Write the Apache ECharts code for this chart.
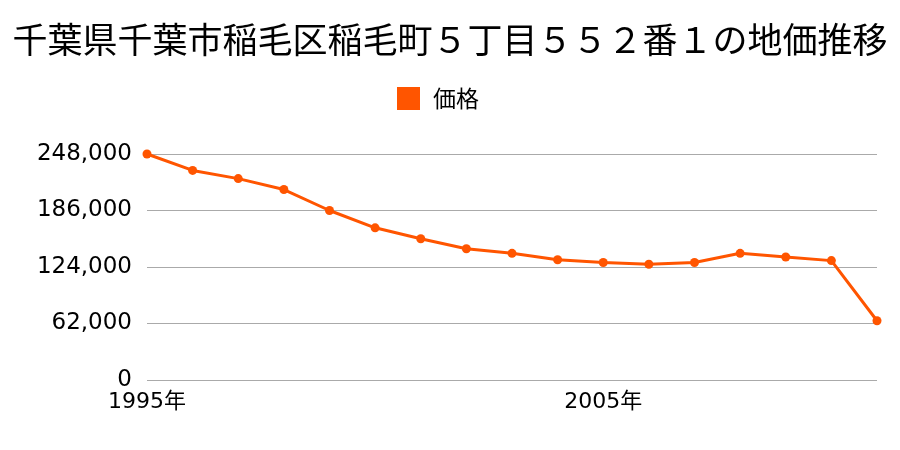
<!DOCTYPE html>
<html><head><meta charset="utf-8">
<script src="https://cdn.jsdelivr.net/npm/echarts@6/dist/echarts.min.js"></script>
<style>html,body{margin:0;padding:0;background:#fff}#c{width:900px;height:450px}</style>
</head><body><div id="c"></div>
<script>
var titleText = '千葉県千葉市稲毛区稲毛町５丁目５５２番１の地価推移';
var seriesName = '価格';
var years = ['1995','1996','1997','1998','1999','2000','2001','2002','2003','2004','2005','2006','2007','2008','2009','2010','2011'];
var prices = [248000,230000,221000,209000,186000,167000,155000,144000,139000,132000,129000,127000,129000,139000,135000,131000,65000];
var yTicks = [0,62000,124000,186000,248000];

var cjk = '"Noto Sans CJK JP", sans-serif';
var num = '"DejaVu Sans", "Noto Sans CJK JP", sans-serif';
var chart = echarts.init(document.getElementById('c'));
chart.setOption({
  animation:false,
  backgroundColor:'#fff',
  title:{text:titleText,left:'center',top:17,textStyle:{fontFamily:cjk,fontSize:35,fontWeight:'normal',color:'#000'}},
  legend:{data:[seriesName],top:82,left:392,itemWidth:23,itemHeight:23,itemGap:10,icon:'rect',
    textStyle:{fontFamily:cjk,fontSize:23,color:'#000',padding:[0,0,0,8]}},
  grid:{left:147,right:23,top:154,bottom:70,containLabel:false},
  xAxis:{type:'category',data:years,boundaryGap:false,
    axisLine:{show:false},axisTick:{show:false},
    axisLabel:{interval:9,fontFamily:num,fontSize:22,color:'#000',margin:11,formatter:function(v){return v+'年';}},
    splitLine:{show:false}},
  yAxis:{type:'value',min:yTicks[0],max:yTicks[yTicks.length-1],interval:62000,
    axisLine:{show:false},axisTick:{show:false},
    axisLabel:{fontFamily:num,fontSize:23,color:'#000',margin:15,formatter:function(v){return v.toLocaleString('en-US');}},
    splitLine:{lineStyle:{color:'#aaaaaa',width:1}}},
  series:[{name:seriesName,type:'line',data:prices,color:'#ff5500',
    lineStyle:{width:3,color:'#ff5500'},symbol:'circle',symbolSize:9,
    itemStyle:{color:'#ff5500'}}]
});
</script></body></html>
